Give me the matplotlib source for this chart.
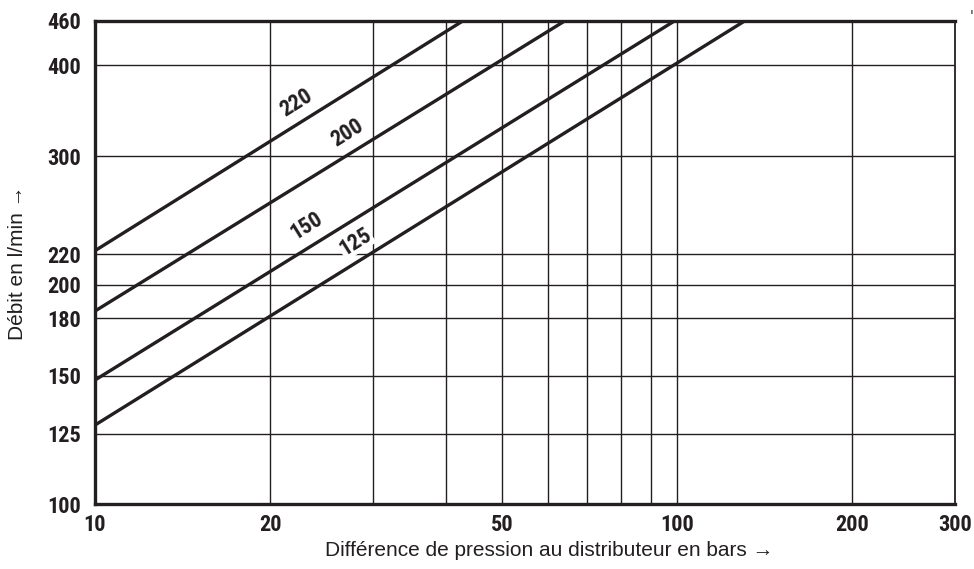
import matplotlib
matplotlib.use('Agg')
import matplotlib.pyplot as plt
from matplotlib import font_manager
import numpy as np

# Curves: flow at 10 bar and pressure where each curve reaches the top (460 l/min)
curve_labels = ['220', '200', '150', '125']
dp_start = [10, 10, 10, 10]
q_start = [222.6, 184.0, 148.0, 128.4]
dp_end = [42.9, 64.2, 99.1, 130.8]
q_end = [460, 460, 460, 460]

# label anchor points (dp, q)
label_dp = [22.2, 27.1, 23.1, 28.0]
label_q = [355, 323, 241, 229]

x_ticks = [10, 20, 50, 100, 200, 300]
x_grid = [20, 30, 40, 50, 60, 70, 80, 90, 100, 200]
y_ticks = [100, 125, 150, 180, 200, 220, 300, 400, 460]
y_grid = [125, 150, 180, 200, 220, 300, 400]

ink = '#231f20'
installed = {f.name for f in font_manager.fontManager.ttflist}
cond = next((n for n in ['Liberation Sans Narrow', 'DejaVu Sans Condensed',
                         'Roboto Condensed', 'Open Sans Condensed', 'Liberation Sans']
             if n in installed), 'DejaVu Sans')
narrow = [cond, 'DejaVu Sans']
plain = ['Liberation Sans', 'DejaVu Sans']

fig = plt.figure(figsize=(9.74, 5.69), dpi=100)
ax = fig.add_axes([0.0975, 0.1137, 0.9805 - 0.0975, 0.9636 - 0.1137])
ax.set_xscale('log')
ax.set_yscale('log')
ax.set_xlim(10, 300)
ax.set_ylim(100, 460)

for x in x_grid:
    ax.axvline(x, color=ink, lw=1.0, zorder=1)
for y in y_grid:
    ax.axhline(y, color=ink, lw=1.0, zorder=1)

for i, lab in enumerate(curve_labels):
    ax.plot([dp_start[i], dp_end[i]], [q_start[i], q_end[i]],
            color=ink, lw=2.4, solid_capstyle='butt', zorder=3)

# rotation angle of the curves on screen
fig.canvas.draw()
p0 = ax.transData.transform((dp_start[0], q_start[0]))
p1 = ax.transData.transform((dp_end[0], q_end[0]))
angle = np.degrees(np.arctan2(p1[1] - p0[1], p1[0] - p0[0]))

for i, lab in enumerate(curve_labels):
    bbox = None
    if lab == '125':
        bbox = dict(facecolor='white', edgecolor='none', pad=0.5)
    ax.text(label_dp[i], label_q[i], lab, rotation=angle, rotation_mode='anchor',
            ha='center', va='center', fontsize=16, fontweight='bold',
            family=narrow, color=ink, bbox=bbox, zorder=4)

ax.xaxis.set_minor_locator(matplotlib.ticker.NullLocator())
ax.yaxis.set_minor_locator(matplotlib.ticker.NullLocator())
ax.set_xticks(x_ticks)
ax.set_xticklabels([str(v) for v in x_ticks])
ax.set_yticks(y_ticks)
ax.set_yticklabels([str(v) for v in y_ticks])
ax.tick_params(length=0, colors=ink)
for lbl in ax.get_xticklabels() + ax.get_yticklabels():
    lbl.set_family(narrow)
    lbl.set_fontweight('bold')
    lbl.set_fontsize(16)
ax.tick_params(axis='x', pad=7)
ax.tick_params(axis='y', pad=10)

for s in ax.spines.values():
    s.set_color(ink)
    s.set_linewidth(2.4)
    s.set_zorder(5)
ax.spines['right'].set_linewidth(1.3)

ax.set_xlabel('Différence de pression au distributeur en bars →',
              fontsize=15, family=plain, color=ink)
ax.xaxis.set_label_coords(0.528, -0.075)
ax.set_ylabel('Débit en l/min →', fontsize=15, family=plain, color=ink)
ax.yaxis.set_label_coords(-0.079, 0.5)

fig.text(0.999, 0.972, "'", fontsize=10, color=ink, ha='right', va='center')

fig.savefig('out.png', dpi=100)
